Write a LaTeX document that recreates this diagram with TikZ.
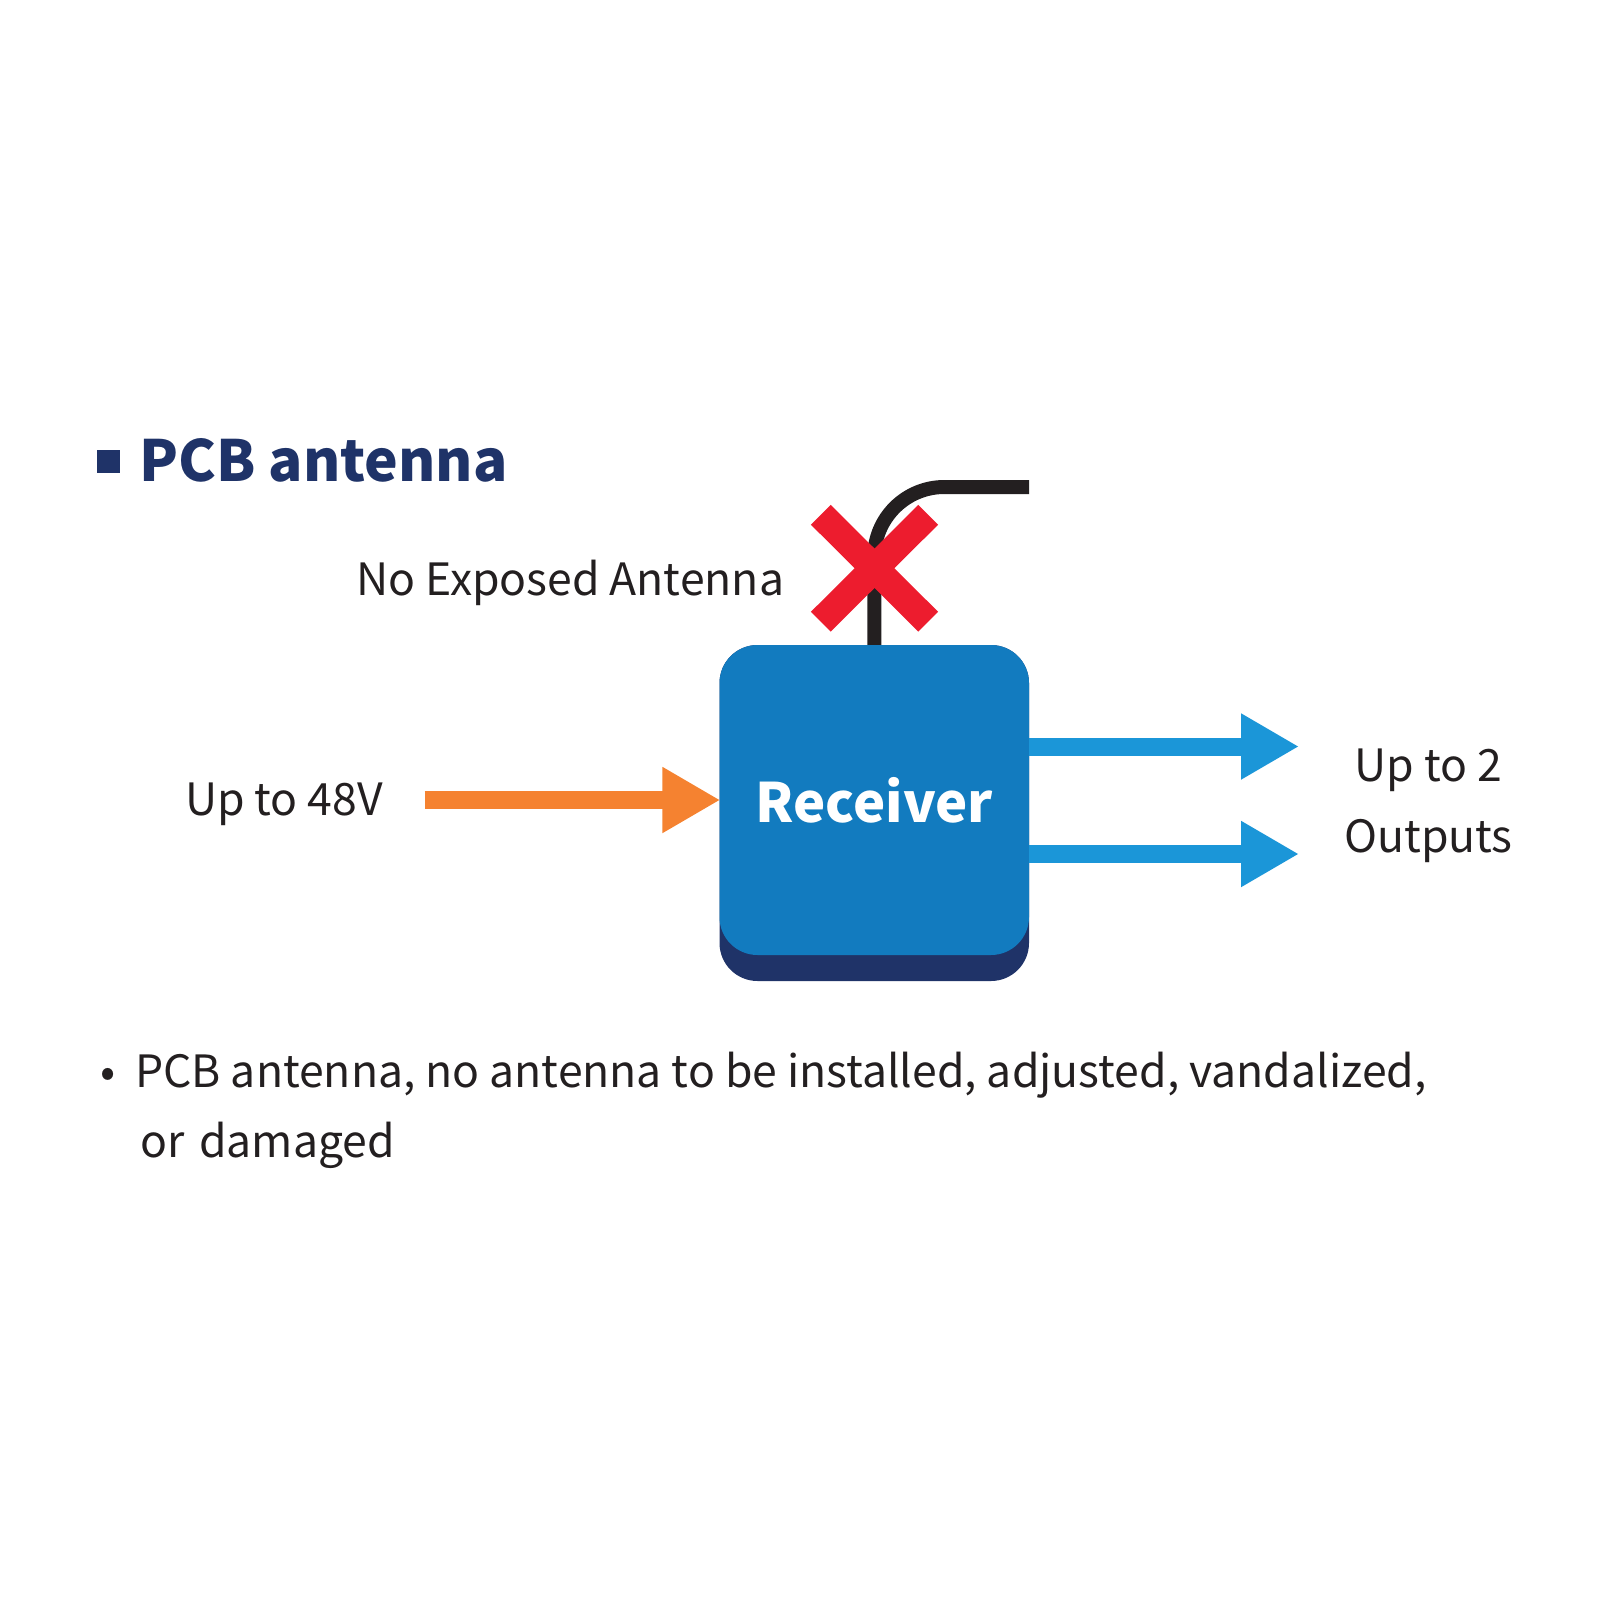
\documentclass[tikz,border=0pt]{standalone}
\usepackage{fontspec}
\setmainfont{Noto Sans CJK JP}
\usetikzlibrary{arrows.meta}

\definecolor{navy}{HTML}{1F3368}
\definecolor{rxblue}{HTML}{127BBF}
\definecolor{outblue}{HTML}{1B96D8}
\definecolor{inorange}{HTML}{F58230}
\definecolor{crossred}{HTML}{ED1C2E}
\definecolor{ink}{HTML}{231F20}

\tikzset{
  label/.style={text=ink,font=\fontsize{44.5}{44.5}\selectfont,inner sep=0pt,anchor=base west},
  labelmid/.style={label,anchor=base},
  power/.style={line width=18pt,-{Triangle[length=58pt,width=62pt]}},
  rxbox/.style={rounded corners=38pt,inner sep=0pt,minimum width=309.5pt},
  crossbar/.style={line width=28pt,crossred},
}

\begin{document}
\begin{tikzpicture}[x=1pt,y=-1pt]
\useasboundingbox (0,0) rectangle (1600,1600);

\node[fill=navy,inner sep=0pt,minimum size=23pt] (mark) at (108.5,461) {};
\node[label,text=navy,font=\fontsize{56.8}{56.8}\selectfont\bfseries] (title) at (139,481) {PCB antenna};

\node[rxbox,fill=navy,minimum height=336pt] (rxbase) at (874.25,813) {};
\node[rxbox,fill=rxblue,minimum height=310pt,text=white,font=\fontsize{54.3}{54.3}\selectfont\bfseries] (rx) at (874.25,800) {Receiver};

\coordinate (cableend) at (1029,487);
\draw[ink,line width=14pt,rounded corners=70pt] (rx.north) |- (cableend);

\coordinate (crossa) at (820.8,514.8);
\coordinate (crossb) at (928.2,621.7);
\coordinate (crossc) at (928.2,514.8);
\coordinate (crossd) at (820.8,621.7);
\draw[crossbar] (crossa) -- (crossb);
\draw[crossbar] (crossc) -- (crossd);

\node[label] (noant) at (356,595) {No Exposed Antenna};
\node[label] (volt) at (185,815) {Up to 48V};

\coordinate (instart) at (424.5,800);
\draw[power,inorange] (instart) -- ([xshift=1pt]rx.west |- instart);

\coordinate (outa) at (1299,746.5);
\coordinate (outb) at (1299,854);
\draw[power,outblue] (rx.east |- outa) -- (outa);
\draw[power,outblue] (rx.east |- outb) -- (outb);

\node[labelmid] (upto) at (1428.5,781) {Up to 2};
\node[labelmid] (outs) at (1428.5,852) {Outputs};

\node[label] (dot) at (100.5,1087) {\textbullet};
\node[label] (noteone) at (135,1087) {PCB antenna, no antenna to be installed, adjusted, vandalized,};
\node[label] (notetwo) at (140,1157) {or\hspace{0.11em} damaged};
\end{tikzpicture}
\end{document}
